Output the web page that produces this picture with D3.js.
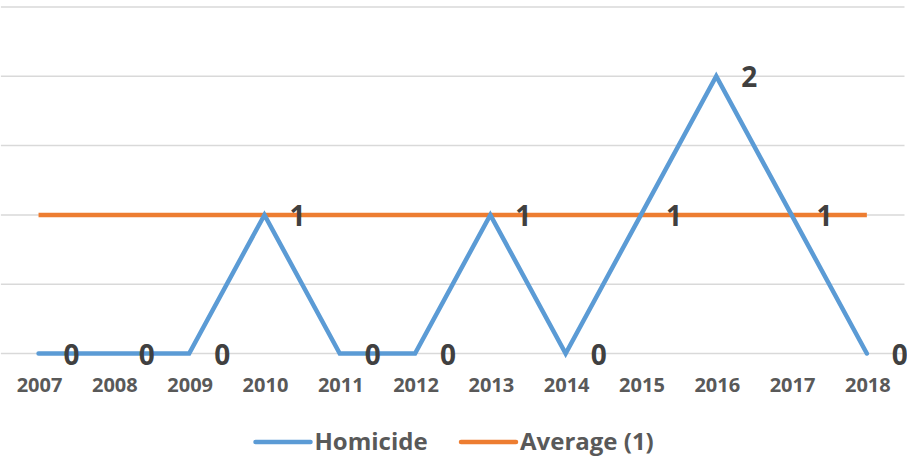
<!DOCTYPE html>
<html><head><meta charset="utf-8">
<script src="https://cdn.jsdelivr.net/npm/d3@7"></script>
<style>body{margin:0;background:#fff}svg{display:block}text{font-family:"Open Sans",sans-serif;font-weight:700}</style>
</head><body><svg id="c" width="907" height="459"></svg>
<script>
const years = ["2007","2008","2009","2010","2011","2012","2013","2014","2015","2016","2017","2018"];
const homicide = [0,0,0,1,0,0,1,0,1,2,1,0];
const average = [1,1,1,1,1,1,1,1,1,1,1,1];
const yTicks = [0,0.5,1,1.5,2,2.5];
const legendLabels = ["Homicide","Average (1)"];
const colors = ["#5b9bd5","#ed7d31"];

const svg = d3.select("#c");
const x = d3.scaleBand().domain(years).range([0.9,904.5]);
const y = d3.scaleLinear().domain([0,2.5]).range([353.5,7]);
const cx = d => x(d) + x.bandwidth()/2;

svg.append("g").selectAll("line").data(yTicks).join("line")
  .attr("x1",0.9).attr("x2",904.5).attr("y1",d=>y(d)).attr("y2",d=>y(d))
  .attr("stroke","#d9d9d9").attr("stroke-width",1.5);

const xAxis = d3.axisBottom(x).tickSize(0).tickPadding(0);
const gx = svg.append("g").call(xAxis);
gx.select(".domain").remove();
gx.selectAll("text").attr("y",392).attr("dy",null).attr("x",1).attr("fill","#595959")
  .style("font-size","20px").style("font-family","'Open Sans',sans-serif").style("font-weight","700");

const line = d3.line().x((d,i)=>cx(years[i])).y(d=>y(d));
svg.append("path").datum(average).attr("d",line).attr("fill","none")
  .attr("stroke",colors[1]).attr("stroke-width",4.5);
svg.append("path").datum(homicide).attr("d",line).attr("fill","none")
  .attr("stroke",colors[0]).attr("stroke-width",4.5).attr("stroke-linecap","round").attr("stroke-linejoin","miter");

svg.append("g").selectAll("text").data(homicide).join("text")
  .attr("x",(d,i)=>cx(years[i])+33).attr("y",d=>y(d)+11)
  .attr("text-anchor","middle").attr("fill","#404040").style("font-size","28px")
  .text(d=>d);

const legX = [255.5, 461];
const lg = svg.append("g");
legendLabels.forEach((t,i)=>{
  lg.append("line").attr("x1",legX[i]).attr("x2",legX[i]+55).attr("y1",442).attr("y2",442)
    .attr("stroke",colors[i]).attr("stroke-width",4.5).attr("stroke-linecap","round");
  lg.append("text").attr("x",legX[i]+59).attr("y",449.5).attr("fill","#595959")
    .style("font-size","24px").text(t);
});
</script></body></html>
